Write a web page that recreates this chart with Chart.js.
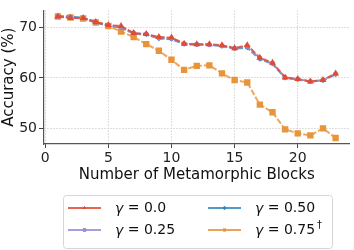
<!DOCTYPE html>
<html lang="en">
<head>
    <meta charset="UTF-8">
    <title>Accuracy vs Metamorphic Blocks</title>
    <script src="https://cdn.jsdelivr.net/npm/chart.js"></script>
    <style>
        body { margin: 0; background: #fff; }
        #wrap { width: 354px; height: 250px; }
    </style>
</head>
<body>
    <div id="wrap">
        <canvas id="myChart" width="354" height="250"></canvas>
    </div>
    <script>
        const blocks = [1, 2, 3, 4, 5, 6, 7, 8, 9, 10, 11, 12, 13, 14, 15, 16, 17, 18, 19, 20, 21, 22, 23];
        const gamma000 = [72.2, 71.9, 71.9, 71.1, 70.5, 70.3, 68.9, 68.7, 68.1, 68.0, 66.8, 66.7, 66.7, 66.5, 65.9, 66.5, 64.0, 63.0, 60.1, 59.8, 59.3, 59.6, 60.9];
        const gamma025 = [72.2, 72.0, 71.9, 71.1, 70.4, 70.1, 68.9, 68.7, 68.0, 67.9, 66.8, 66.7, 66.6, 66.4, 65.9, 66.3, 63.9, 62.9, 60.1, 59.8, 59.3, 59.6, 60.8];
        const gamma050 = [72.3, 72.2, 71.9, 71.0, 70.4, 70.0, 68.8, 68.6, 67.8, 67.7, 66.7, 66.6, 66.6, 66.3, 65.8, 66.0, 63.7, 62.8, 60.0, 59.7, 59.3, 59.5, 60.7];
        const gamma075 = [72.2, 72.0, 71.8, 71.0, 70.3, 69.2, 68.1, 66.7, 65.4, 63.6, 61.6, 62.4, 62.5, 60.9, 59.6, 59.1, 54.7, 53.2, 49.8, 49.0, 48.6, 50.0, 48.1];
        const seriesLabels = ['0.0', '0.25', '0.50', '0.75'];
        const xTicks = [0, 5, 10, 15, 20];
        const yTicks = [50, 60, 70];

        const FONT = "'DejaVu Sans', sans-serif";
        const colors = ['#E24A33', '#988ED5', '#348ABD', '#E8943A'];
        const markers = ['triangle', 'circle', 'rectRot', 'rect'];
        const markerSize = [4, 2.5, 2.5, 4.5];
        const allSeries = [gamma000, gamma025, gamma050, gamma075];

        function toPoints(values) {
            return values.map((v, i) => ({ x: blocks[i], y: v }));
        }

        function withAlpha(hex, a) {
            const n = parseInt(hex.slice(1), 16);
            return 'rgba(' + (n >> 16) + ',' + ((n >> 8) & 255) + ',' + (n & 255) + ',' + a + ')';
        }

        const datasets = allSeries.map((vals, i) => ({
            label: 'γ = ' + seriesLabels[i],
            data: toPoints(vals),
            borderColor: withAlpha(colors[i], 0.8),
            backgroundColor: colors[i],
            pointBackgroundColor: colors[i],
            pointBorderColor: colors[i],
            pointStyle: markers[i],
            pointRadius: markerSize[i],
            pointBorderWidth: 0,
            borderWidth: 2,
            borderDash: [6, 2],
            tension: 0,
            fill: false
        }));

        // legend drawn by hand: two columns, boxed, like the matplotlib one
        const boxLegend = {
            id: 'boxLegend',
            afterDraw(chart) {
                const c = chart.ctx;
                c.save();
                const bx = 63, by = 195, bw = 269, bh = 53, r = 3;
                c.beginPath();
                c.roundRect(bx + 0.5, by + 0.5, bw, bh, r);
                c.fillStyle = '#fff';
                c.fill();
                c.strokeStyle = '#d6d6d6';
                c.lineWidth = 1;
                c.stroke();

                const slots = [
                    { lx: 68, tx: 115, y: 208 },
                    { lx: 68, tx: 115, y: 230 },
                    { lx: 208, tx: 255, y: 208 },
                    { lx: 208, tx: 255, y: 230 }
                ];
                datasets.forEach((ds, i) => {
                    const s = slots[i];
                    c.strokeStyle = withAlpha(colors[i], 0.85);
                    c.lineWidth = 2;
                    c.setLineDash([]);
                    c.beginPath();
                    c.moveTo(s.lx, s.y);
                    c.lineTo(s.lx + 33, s.y);
                    c.stroke();
                    c.fillStyle = colors[i];
                    Chart.helpers.drawPoint(c, {
                        pointStyle: markers[i], radius: 2, borderWidth: 0
                    }, s.lx + 16.5, s.y);
                    c.fill();

                    c.fillStyle = '#111';
                    c.textBaseline = 'middle';
                    c.textAlign = 'left';
                    c.font = 'italic 14px ' + FONT;
                    c.fillText('γ', s.tx, s.y + 1);
                    const gw = c.measureText('γ').width;
                    c.font = '14px ' + FONT;
                    const rest = ' = ' + seriesLabels[i];
                    c.fillText(rest, s.tx + gw, s.y);
                    if (i === 3) {
                        const rw = c.measureText(rest).width;
                        c.font = '10px ' + FONT;
                        c.fillText('†', s.tx + gw + rw + 2, s.y - 5);
                    }
                });
                c.restore();
            }
        };

        const ctx = document.getElementById('myChart').getContext('2d');
        const myChart = new Chart(ctx, {
            type: 'line',
            data: { datasets: datasets },
            options: {
                responsive: false,
                animation: false,
                layout: { padding: { top: 2, right: 1, bottom: 65, left: 0 } },
                plugins: {
                    legend: { display: false },
                    tooltip: { enabled: false }
                },
                scales: {
                    x: {
                        type: 'linear',
                        min: -0.1,
                        max: 24.1,
                        afterBuildTicks: s => { s.ticks = xTicks.map(v => ({ value: v })); },
                        afterFit: s => { s.height = 41; },
                        ticks: { font: { family: FONT, size: 14 }, color: '#222', padding: 2, maxRotation: 0 },
                        grid: { color: '#d4d4d4', lineWidth: 1, tickColor: '#444', tickLength: 4, tickBorderDash: [] },
                        border: { display: true, color: '#555', width: 1.2, dash: [1.5, 1.5] },
                        title: { display: true, text: 'Number of Metamorphic Blocks', font: { family: FONT, size: 15 }, color: '#111', padding: { top: 0, bottom: 1 } }
                    },
                    y: {
                        min: 46.9,
                        max: 73.4,
                        afterBuildTicks: s => { s.ticks = yTicks.map(v => ({ value: v })); },
                        afterFit: s => { s.width = 44; },
                        ticks: { font: { family: FONT, size: 14 }, color: '#222', padding: 2 },
                        grid: { color: '#d4d4d4', lineWidth: 1, tickColor: '#444', tickLength: 5, tickBorderDash: [] },
                        border: { display: true, color: '#555', width: 1.2, dash: [1.5, 1.5] },
                        title: { display: true, text: 'Accuracy (%)', font: { family: FONT, size: 15 }, color: '#111', padding: { top: 0, bottom: 0 } }
                    }
                }
            },
            plugins: [boxLegend]
        });
    </script>
</body>
</html>
